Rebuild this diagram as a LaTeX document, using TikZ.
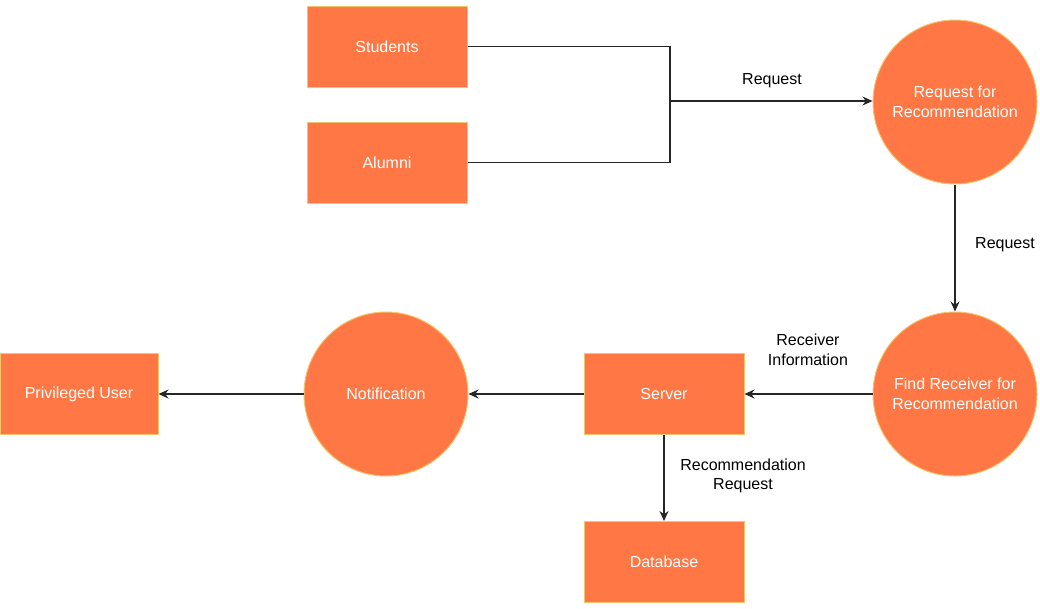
\documentclass[tikz,border=0pt]{standalone}
\usepackage{fontspec}
\setmainfont{Liberation Sans}
\usetikzlibrary{arrows.meta}
\definecolor{arancio}{HTML}{FF7744}
\definecolor{bordo}{HTML}{F2C46C}
\tikzset{
  testo/.style={font=\fontsize{16}{19.5}\selectfont, align=center},
  blocco/.style={testo, rectangle, fill=arancio, draw=bordo, line width=1pt, minimum width=160pt, minimum height=81pt, text=white},
  processo/.style={testo, circle, fill=arancio, draw=bordo, line width=1pt, minimum size=164pt, inner sep=0pt, text=white},
  freccia/.style={-{Stealth[length=10pt,width=9pt]}, line width=1.2pt, black!85},
  linea/.style={line width=1.2pt, black!85},
  etichetta/.style={testo, text=black}
}
\begin{document}
\begin{tikzpicture}[x=1pt,y=-1pt]
        \useasboundingbox (0,0) rectangle (1040,608);

        % Blocchi e processi
        \node[blocco] (studenti) at (387,46.5) {Students};
        \node[blocco] (alumni) at (387,162.5) {Alumni};
        \node[processo] (richiesta) at (955,102) {Request for\\Recommendation};
        \node[processo] (trova) at (955,394) {Find Receiver for\\Recommendation};
        \node[blocco] (server) at (664,394) {Server};
        \node[processo] (notifica) at (386,394) {Notification};
        \node[blocco, minimum width=158pt] (utente) at (79,394) {Privileged User};
        \node[blocco] (database) at (664,562) {Database};

        % Punto di incontro delle linee
        \coordinate (incrocio) at (670,101);

        % Collegamenti
        \draw[linea] (studenti.east) -| (incrocio);
        \draw[linea] (alumni.east) -| (incrocio);
        \draw[freccia] (incrocio) -- (incrocio -| richiesta.west);
        \draw[freccia] (richiesta.south) -- (trova.north);
        \draw[freccia] (trova.west) -- (server.east);
        \draw[freccia] (server.west) -- (notifica.east);
        \draw[freccia] (notifica.west) -- (utente.east);
        \draw[freccia] (server.south) -- (database.north);

        % Etichette
        \node[etichetta] (et1) at (772,81) {Request};
        \node[etichetta] (et2) at (1005,245) {Request};
        \node[etichetta] (et3) at (808,350) {Receiver\\Information};
        \node[etichetta] (et4) at (743,476) {Recommendation\\Request};
\end{tikzpicture}
\end{document}
